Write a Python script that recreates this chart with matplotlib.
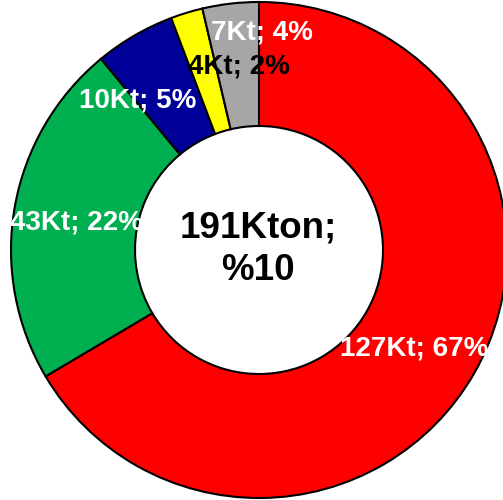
import matplotlib
matplotlib.use("Agg")
import matplotlib.pyplot as plt

# slice data (Kton), clockwise from 12 o'clock
values = [127, 43, 10, 4, 7]
labels = ["127Kt; 67%", "43Kt; 22%", "10Kt; 5%", "4Kt; 2%", "7Kt; 4%"]
colors = ["#FF0000", "#00B050", "#000099", "#FFFF00", "#A6A6A6"]
label_colors = ["white", "white", "white", "black", "white"]
center_text = "191Kton;\n%10"

# label positions (offset from pie centre, pixels)
label_offsets = [(155, -99), (-183, 28), (-121, 150), (-20, 183), (3, 218)]

plt.rcParams['font.family'] = ['Liberation Sans', 'DejaVu Sans']

fig = plt.figure(figsize=(5.03, 5.0), dpi=100)
ax = fig.add_axes([0, 0, 1, 1])

cx, cy, r = 259, 250, 248
ax.pie(values, colors=colors, startangle=90, counterclock=False,
       center=(cx, cy), radius=r, frame=True,
       wedgeprops=dict(width=r * 0.5, edgecolor='black', linewidth=1.5))
ax.set_xlim(0, 503)
ax.set_ylim(0, 500)
ax.set_aspect('equal')
ax.axis('off')

for lab, col, (dx, dy) in zip(labels, label_colors, label_offsets):
    ax.text(cx + dx, cy + dy, lab, color=col, fontsize=20, fontweight='bold',
            ha='center', va='center')

ax.text(cx - 1, cy + 1, center_text, fontsize=26.5, fontweight='bold',
        ha='center', va='center', linespacing=1.28)

fig.savefig("out.png", dpi=100)
